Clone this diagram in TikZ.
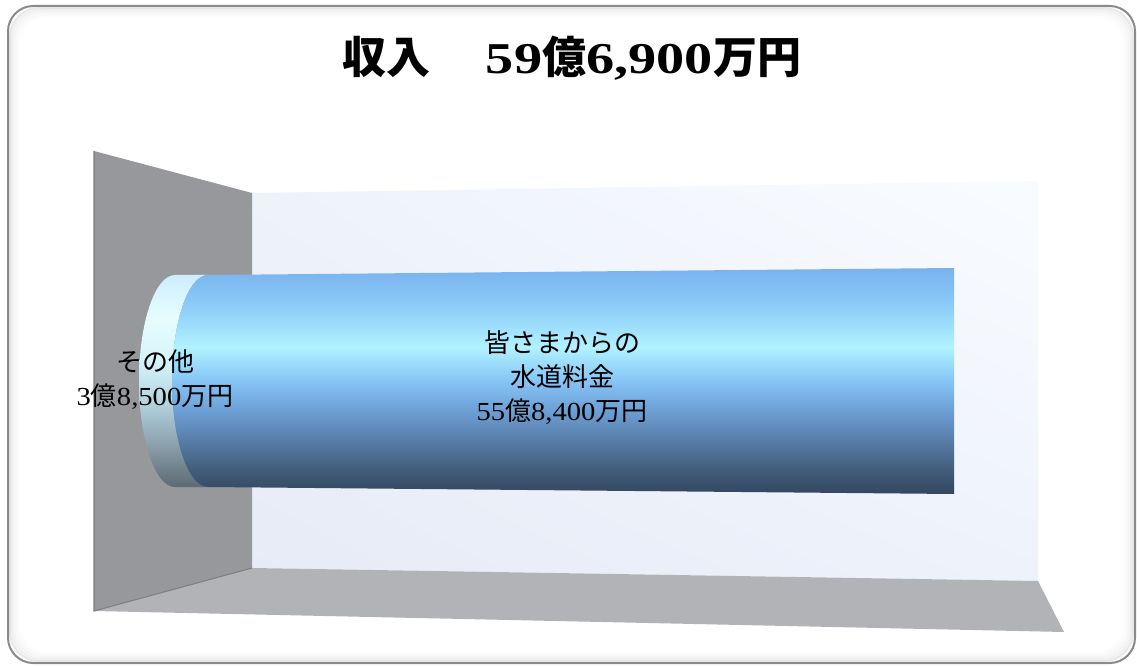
\documentclass[tikz,border=0pt]{standalone}
\usepackage{fontspec}
\usetikzlibrary{shadings}
\setmainfont{Liberation Serif}
\newfontfamily\cjk{Noto Sans CJK JP}
\newfontfamily\numr{Liberation Serif}[FakeStretch=1.1]
\newfontfamily\numb{Liberation Serif Bold}[FakeStretch=1.28]
\definecolor{framegray}{HTML}{8A8A8A}
\definecolor{sidewall}{HTML}{97989B}
\definecolor{sideedge}{HTML}{7E7F82}
\definecolor{floorgray}{HTML}{B1B3B6}
\definecolor{wallA}{HTML}{F9FCFF}
\definecolor{wallB}{HTML}{E6EBF6}
\definecolor{wallC}{HTML}{EEF2FB}
\definecolor{b1}{HTML}{78B2EE}
\definecolor{b2}{HTML}{8CCAF8}
\definecolor{b3}{HTML}{B0F2FF}
\definecolor{b4}{HTML}{86C4F6}
\definecolor{b5}{HTML}{6EA2D8}
\definecolor{b6}{HTML}{5A80AC}
\definecolor{b7}{HTML}{44607F}
\definecolor{b8}{HTML}{33465E}
\definecolor{l1}{HTML}{CDEEFF}
\definecolor{l2}{HTML}{E6FDFF}
\definecolor{l3}{HTML}{D6F4FA}
\definecolor{l4}{HTML}{B4D4E0}
\definecolor{l5}{HTML}{8AA0AC}
\definecolor{l6}{HTML}{5C6A72}
\pgfdeclareverticalshading{cylbody}{100bp}{color(0bp)=(b8); color(25bp)=(b8); color(31bp)=(b7); color(37.5bp)=(b6); color(44bp)=(b5); color(50bp)=(b4); color(57.5bp)=(b3); color(67bp)=(b2); color(75bp)=(b1); color(100bp)=(b1)}
\pgfdeclareverticalshading{cylband}{100bp}{color(0bp)=(l6); color(25bp)=(l6); color(35bp)=(l5); color(45bp)=(l4); color(55bp)=(l3); color(65bp)=(l2); color(75bp)=(l1); color(100bp)=(l1)}
\tikzset{
  titletext/.style={font=\fontsize{33pt}{38pt}\selectfont, text=black, inner sep=0pt},
  labeltext/.style={font=\fontsize{19.5pt}{25.5pt}\selectfont, text=black, align=center, inner sep=0pt},
}
\begin{document}
\begin{tikzpicture}[x=0.75pt,y=0.75pt]
\useasboundingbox (0,0) rectangle (1137,-666);
% frame with inner glow
\fill[white] (8,-6) [rounded corners=25pt] rectangle (1135,-663);
\foreach \o/\op in {2/0.35,4/0.22,6/0.14,8/0.08,10/0.04}{
  \draw[black!25, line width=1.6pt, opacity=\op, rounded corners=22pt] (8+\o,-6-\o) rectangle (1135-\o,-663+\o);
}
\draw[framegray, line width=1.5pt, rounded corners=19pt] (8,-6) rectangle (1135,-663);
% back wall
\shade[upper right=wallA, upper left=wallC, lower left=wallB, lower right=wallC]
  (252,-193) -- (1038,-181) -- (1038,-581) -- (252,-568) -- cycle;
% floor
\fill[floorgray] (252,-568) -- (1038,-581) -- (1064,-632) -- (94,-611) -- cycle;
% left wall
\fill[sidewall] (94,-151) -- (252,-193) -- (252,-568) -- (94,-611) -- cycle;
\draw[sideedge, line width=0.8pt] (94,-151) -- (94,-611) -- (252,-568);
% cylinder: small segment (light band)
\shade[shading=cylband] (175,-275) -- (208,-275) arc[start angle=90, end angle=270, x radius=36, y radius=106]
  -- (175,-487) arc[start angle=270, end angle=90, x radius=36, y radius=106] -- cycle;
% cylinder: main body
\shade[shading=cylbody] (208,-275) -- (954,-268) -- (954,-494) -- (208,-487)
  arc[start angle=270, end angle=90, x radius=36, y radius=106] -- cycle;
% texts
\node[titletext] (title) at (572,-58) {{\cjk\bfseries 収入}\hspace{1.25em}{\numb 59}{\cjk\bfseries 億}{\numb 6,900}{\cjk\bfseries 万円}};
\node[labeltext] (main) at (562,-378) {{\cjk 皆さまからの}\\{\cjk 水道料金}\\{\numr 55}{\cjk 億}{\numr 8,400}{\cjk 万円}};
\node[labeltext] (other) at (155,-380) {{\cjk その他}\\{\numr 3}{\cjk 億}{\numr 8,500}{\cjk 万円}};
\end{tikzpicture}
\end{document}
